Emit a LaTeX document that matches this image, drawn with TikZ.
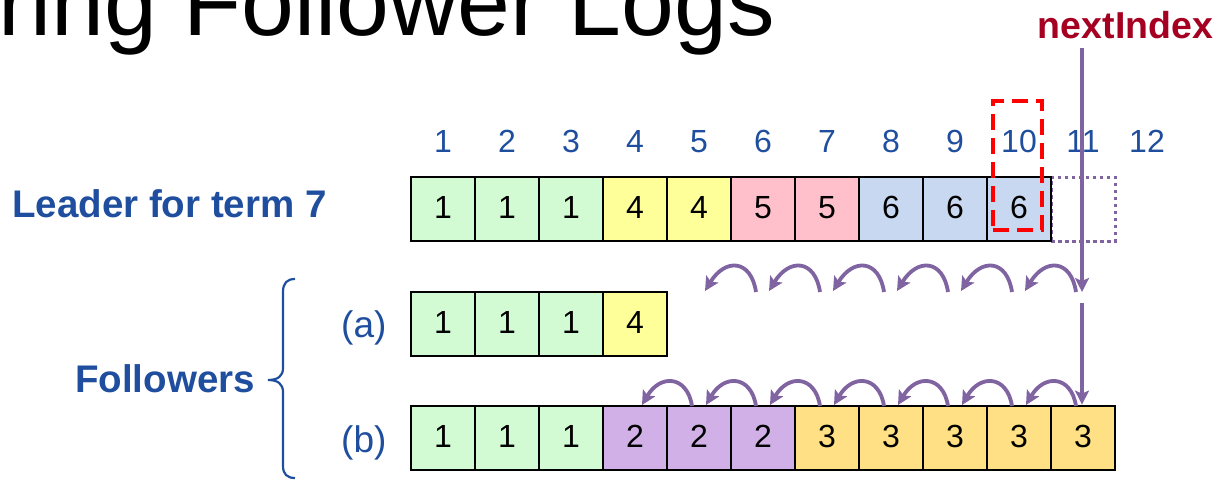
\documentclass[tikz,border=0pt]{standalone}
\usepackage{fontspec}
\setmainfont{Liberation Sans}
\usetikzlibrary{arrows.meta,calc}
\definecolor{cgreen}{HTML}{D3FBD3}
\definecolor{cyellow}{HTML}{FFFF99}
\definecolor{cpink}{HTML}{FFC0CB}
\definecolor{cblue}{HTML}{C9D8F1}
\definecolor{cpurple}{HTML}{D0B0E6}
\definecolor{cgold}{HTML}{FFE084}
\definecolor{tblue}{HTML}{1F4E9E}
\definecolor{dred}{HTML}{A50021}
\definecolor{arcol}{HTML}{8064A2}
\tikzset{
  cell/.style={draw=black, line width=2.8pt, minimum width=64pt, minimum height=64pt,
    inner sep=0pt, text height=18pt, text depth=0pt, font=\fontsize{32}{38}\selectfont},
  idx/.style={text=tblue, inner sep=0pt, anchor=base, font=\fontsize{32}{38}\selectfont},
  lab/.style={text=tblue, inner sep=0pt, anchor=base west, font=\fontsize{38.5}{44}\selectfont\bfseries},
  sublab/.style={text=tblue, inner sep=0pt, anchor=base west, font=\fontsize{37}{42}\selectfont},
  arr/.style={draw=arcol, line width=3.8pt, -{Stealth[length=14pt,width=14pt,inset=3pt]}},
}
\begin{document}
\begin{tikzpicture}[x=1pt,y=-1pt]
\useasboundingbox (0,0) rectangle (1217,483);
% title (cut off at the top, as in the reference)
\begin{scope}
\clip (0,0) rectangle (1217,483);
\node[anchor=base east, inner sep=0pt, font=\fontsize{95}{100}\selectfont] (title) at (775,35) {iring Follower Logs};
\end{scope}
% index numbers
\foreach \i in {1,...,12} {
  \node[idx] (n\i) at ({443+64*(\i-1)},152) {\i};
}
% dotted slot 11
\node[draw=arcol, line width=3pt, dash pattern=on 3.5pt off 3.5pt, minimum width=64pt, minimum height=64pt, inner sep=0pt] (L11) at (1083,209) {};
% leader row
\foreach \v/\c [count=\i] in {1/cgreen,1/cgreen,1/cgreen,4/cyellow,4/cyellow,5/cpink,5/cpink,6/cblue,6/cblue,6/cblue} {
  \node[cell, fill=\c] (L\i) at ({443+64*(\i-1)},209) {\v};
}
% follower (a)
\foreach \v/\c [count=\i] in {1/cgreen,1/cgreen,1/cgreen,4/cyellow} {
  \node[cell, fill=\c] (A\i) at ({443+64*(\i-1)},324) {\v};
}
% follower (b)
\foreach \v/\c [count=\i] in {1/cgreen,1/cgreen,1/cgreen,2/cpurple,2/cpurple,2/cpurple,3/cgold,3/cgold,3/cgold,3/cgold,3/cgold} {
  \node[cell, fill=\c] (B\i) at ({443+64*(\i-1)},438) {\v};
}
% red dashed highlight
\node[draw=red, line width=4pt, dash pattern=on 16pt off 8pt, minimum width=49pt, minimum height=129pt, inner sep=0pt] (redbox) at (1017.5,165.5) {};
% labels
\node[lab] (leader) at (12,217) {Leader for term 7};
\node[lab] (fol) at (75,392) {Followers};
\node[sublab] (la) at (341,337) {(a)};
\node[sublab] (lb) at (341,452) {(b)};
\node[anchor=base, inner sep=0pt, text=dred, font=\fontsize{37.5}{42}\selectfont\bfseries] (ni) at (1125.5,38) {nextIndex};
% brace
\draw[tblue, line width=2.2pt] (295,279) .. controls (287,279) and (283,283) .. (283,292) -- (283,368)
  .. controls (283,376) and (278,380) .. (268,380) .. controls (278,380) and (283,384) .. (283,392) -- (283,466)
  .. controls (283,474) and (287,478) .. (295,478);
% nextIndex arrows
\coordinate (niTop) at (1082,48);
\coordinate (niEnd) at (1082,292);
\coordinate (niB) at (1082,303);
\draw[arr] (niTop) -- (niEnd);
\draw[arr] (niB) -- (niB |- B11.north);
% backing-up arcs between leader and followers
\foreach \k in {0,...,5} {
  \coordinate (ls\k) at ({756+64*\k},292);
  \coordinate (lt\k) at ({705+64*\k},291);
  \draw[arr] (ls\k) .. controls +(-5,-33) and +(20,-33) .. (lt\k);
}
% backing-up arcs on follower (b)
\foreach \k in {0,...,6} {
  \coordinate (bs\k) at ({692+64*\k},406);
  \coordinate (bt\k) at ({642+64*\k},405);
  \draw[arr] (bs\k) .. controls +(-5,-31) and +(18,-31) .. (bt\k);
}
\end{tikzpicture}
\end{document}
